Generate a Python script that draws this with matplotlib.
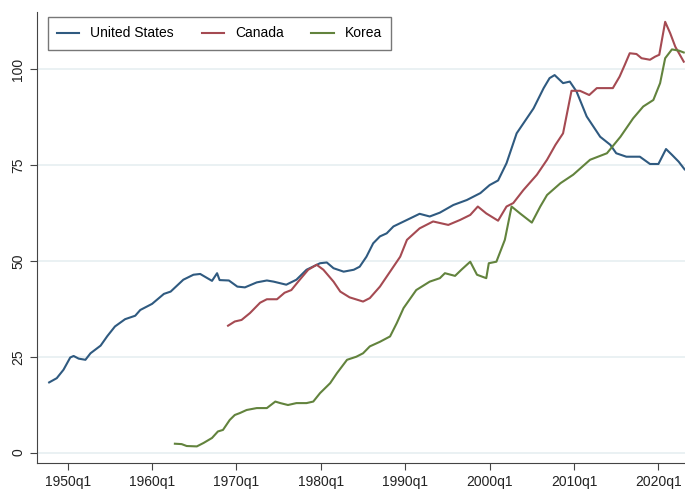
import matplotlib.pyplot as plt

# values (x in fractional years, y index)
us_year = [1947.8, 1948.7, 1949.5, 1950.3, 1950.7, 1951.3, 1952.1, 1952.7, 1953.9,
           1954.7, 1955.6, 1956.8, 1958.0, 1958.6, 1960.0, 1961.4, 1962.2, 1963.7,
           1964.9, 1965.7, 1967.1, 1967.7, 1968.0, 1969.1, 1970.1, 1971.0, 1972.4,
           1973.6, 1974.4, 1975.9, 1977.1, 1978.3, 1979.9, 1980.7, 1981.5, 1982.7,
           1983.9, 1984.6, 1985.4, 1986.2, 1987.0, 1987.8, 1988.6, 1990.2, 1991.7,
           1992.9, 1994.1, 1995.7, 1997.3, 1998.9, 2000.0, 2001.0, 2002.0, 2003.2,
           2004.0, 2005.2, 2006.4, 2007.1, 2007.7, 2008.7, 2009.5, 2010.3, 2011.5,
           2013.1, 2014.3, 2015.0, 2016.2, 2017.8, 2019.0, 2020.0, 2020.9, 2021.6,
           2022.4, 2023.1]
us_val = [18.3, 19.4, 21.6, 24.8, 25.2, 24.5, 24.2, 25.9, 27.9,
          30.4, 32.9, 34.8, 35.7, 37.2, 38.8, 41.4, 42.0, 45.1,
          46.4, 46.6, 44.8, 46.8, 45.0, 44.9, 43.3, 43.1, 44.4,
          44.9, 44.6, 43.8, 45.1, 47.7, 49.4, 49.6, 48.1, 47.2,
          47.7, 48.5, 51.1, 54.6, 56.4, 57.2, 59.0, 60.7, 62.3,
          61.6, 62.6, 64.6, 65.9, 67.7, 69.8, 71.0, 75.5, 83.3,
          85.9, 89.8, 95.1, 97.7, 98.5, 96.4, 96.8, 94.2, 87.7,
          82.4, 80.3, 78.1, 77.2, 77.2, 75.3, 75.3, 79.2, 77.7,
          75.9, 73.9]

ca_year = [1969.0, 1969.8, 1970.6, 1971.6, 1972.8, 1973.6, 1974.8, 1975.7, 1976.5,
           1977.5, 1978.5, 1979.5, 1980.3, 1981.5, 1982.3, 1983.4, 1985.0, 1985.8,
           1987.0, 1988.6, 1989.4, 1990.2, 1991.7, 1993.3, 1995.1, 1996.5, 1997.7,
           1998.6, 1999.6, 2001.0, 2002.0, 2002.8, 2004.0, 2005.6, 2006.8, 2007.8,
           2008.7, 2009.7, 2010.7, 2011.8, 2012.7, 2013.9, 2014.6, 2015.4, 2016.0,
           2016.6, 2017.4, 2018.0, 2019.0, 2019.6, 2020.1, 2020.8, 2021.4, 2022.0,
           2023.0]
ca_val = [33.1, 34.2, 34.6, 36.4, 39.1, 40.0, 40.0, 41.7, 42.4,
          45.1, 47.7, 49.0, 47.7, 44.6, 42.0, 40.5, 39.4, 40.3,
          43.3, 48.5, 51.1, 55.5, 58.5, 60.3, 59.4, 60.7, 62.0,
          64.2, 62.4, 60.5, 64.2, 65.1, 68.5, 72.5, 76.4, 80.3,
          83.3, 94.4, 94.4, 93.3, 95.1, 95.1, 95.1, 98.1, 101.1,
          104.2, 104.0, 102.9, 102.5, 103.3, 103.8, 112.4, 109.4, 105.9,
          102.0]

kr_year = [1962.7, 1963.5, 1964.1, 1965.3, 1966.1, 1967.1, 1967.8, 1968.4, 1969.2,
           1969.8, 1970.4, 1971.2, 1972.4, 1973.6, 1974.6, 1975.2, 1976.1, 1977.1,
           1978.3, 1979.1, 1979.9, 1981.1, 1981.9, 1983.1, 1984.2, 1985.0, 1985.8,
           1987.0, 1988.2, 1989.0, 1989.8, 1991.3, 1992.9, 1994.1, 1994.7, 1995.9,
           1996.7, 1997.7, 1998.5, 1999.6, 1999.9, 2000.8, 2001.8, 2002.6, 2003.6,
           2005.0, 2006.0, 2006.8, 2008.4, 2009.9, 2011.9, 2013.9, 2015.5, 2017.0,
           2018.2, 2019.4, 2020.2, 2020.8, 2021.6, 2022.4, 2023.0]
kr_val = [2.3, 2.2, 1.7, 1.6, 2.5, 3.8, 5.5, 5.9, 8.5,
          9.8, 10.3, 11.1, 11.6, 11.6, 13.3, 12.9, 12.4, 12.9,
          12.9, 13.3, 15.5, 18.1, 20.7, 24.2, 25.0, 25.9, 27.7,
          28.9, 30.3, 33.8, 37.7, 42.4, 44.6, 45.5, 46.8, 46.1,
          47.8, 49.8, 46.4, 45.5, 49.4, 49.8, 55.5, 64.2, 62.4,
          60.0, 64.2, 67.2, 70.3, 72.5, 76.4, 78.1, 82.4, 87.2,
          90.3, 92.0, 96.4, 102.9, 105.2, 104.9, 104.4]

years_ticks = [1950, 1960, 1970, 1980, 1990, 2000, 2010, 2020]
tick_labels = [f'{y}q1' for y in years_ticks]
y_ticks = [0, 25, 50, 75, 100]

plt.rcParams['font.family'] = ['Liberation Sans', 'DejaVu Sans']

fig = plt.figure(figsize=(6.85, 4.94), dpi=100)
ax = fig.add_axes([0.054, 0.063, 0.946, 0.913])

for yv in y_ticks:
    ax.axhline(yv, color='#e6eff1', lw=1.2, zorder=0)

ax.plot(us_year, us_val, color='#2f5a80', lw=1.5, label='United States')
ax.plot(ca_year, ca_val, color='#a54a52', lw=1.5, label='Canada')
ax.plot(kr_year, kr_val, color='#62833d', lw=1.5, label='Korea')

ax.set_xlim(1946.36, 2023.15)
ax.set_ylim(-2.7, 115)
ax.set_xticks(years_ticks)
ax.set_xticklabels(tick_labels)
ax.set_yticks(y_ticks)
ax.set_yticklabels([str(v) for v in y_ticks], rotation=90, va='center')
ax.tick_params(axis='both', labelsize=10, length=5, color='#444444', labelcolor='#222222')

for side in ['top', 'right']:
    ax.spines[side].set_visible(False)
for side in ['left', 'bottom']:
    ax.spines[side].set_color('#444444')

leg = ax.legend(loc='upper left', ncol=3, fontsize=10, frameon=True, fancybox=False,
                edgecolor='#555555', handlelength=1.6, columnspacing=2.0,
                bbox_to_anchor=(0.006, 1.003), borderpad=0.65)
leg.get_frame().set_linewidth(1.0)

fig.savefig('out.png', dpi=100)
